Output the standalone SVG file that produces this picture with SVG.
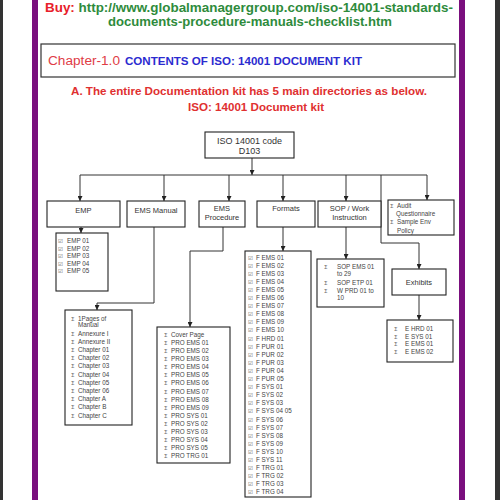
<svg xmlns="http://www.w3.org/2000/svg" width="500" height="500" viewBox="0 0 500 500">
<style>
  .box{fill:#fff;stroke:#222;stroke-width:1.1}
  .lbl{font-family:"Liberation Sans",Arial,sans-serif;font-size:7.5px;fill:#333;text-anchor:middle}
  .li{font-family:"Liberation Sans",Arial,sans-serif;font-size:6.3px;fill:#444}
  .bu{font-family:"DejaVu Sans",sans-serif;font-size:5.5px;fill:#666}
  .conn{fill:none;stroke:#333;stroke-width:1}
</style>
<defs>
  <marker id="arr" viewBox="0 0 10 10" refX="10" refY="5" markerWidth="5" markerHeight="5" markerUnits="userSpaceOnUse" orient="auto">
    <path d="M0,0 L10,5 L0,10 z" fill="#222"/>
  </marker>
</defs>
<rect x="0" y="0" width="500" height="500" fill="#fff"/>
<rect x="0" y="0" width="3" height="500" fill="#333"/>
<rect x="495" y="0" width="5" height="500" fill="#333"/>
<rect x="32" y="0" width="6" height="500" fill="#7a0f7e"/>
<rect x="459" y="0" width="6" height="500" fill="#7a0f7e"/>

<g id="header" font-family="Liberation Sans,Arial,sans-serif" font-weight="bold">
  <text x="45" y="12" font-size="13" textLength="408" lengthAdjust="spacingAndGlyphs"><tspan fill="#e8202a">Buy:</tspan><tspan fill="#2e8b3c"> http://www.globalmanagergroup.com/iso-14001-standards-</tspan></text>
  <text x="108" y="26" font-size="13" fill="#2e8b3c" textLength="284" lengthAdjust="spacingAndGlyphs">documents-procedure-manuals-checklist.htm</text>
</g>
<g id="chapter">
  <rect x="41" y="44" width="414" height="33" fill="#fff" stroke="#333" stroke-width="1.2"/>
  <text x="48" y="65" font-family="Liberation Sans,Arial,sans-serif" font-size="12" fill="#e03c46" textLength="72" lengthAdjust="spacingAndGlyphs">Chapter-1.0</text>
  <text x="125" y="65" font-family="Liberation Sans,Arial,sans-serif" font-size="10.5" font-weight="bold" fill="#2b2bd0" textLength="237" lengthAdjust="spacingAndGlyphs">CONTENTS OF ISO: 14001 DOCUMENT KIT</text>
</g>
<g id="intro" font-family="Liberation Sans,Arial,sans-serif" font-weight="bold" fill="#e03030" font-size="11.5">
  <text x="71" y="95" textLength="356" lengthAdjust="spacingAndGlyphs">A. The entire Documentation kit has 5 main directories as below.</text>
  <text x="188" y="111" textLength="136" lengthAdjust="spacingAndGlyphs">ISO: 14001 Document kit</text>
</g>

<g id="connectors">
  <path class="conn" d="M252,158 V175" marker-end="url(#arr)"/>
  <path class="conn" d="M80,175 H427"/>
  <path class="conn" d="M80,175 V201" marker-end="url(#arr)"/>
  <path class="conn" d="M164,175 V201" marker-end="url(#arr)"/>
  <path class="conn" d="M229,175 V201" marker-end="url(#arr)"/>
  <path class="conn" d="M283,175 V201" marker-end="url(#arr)"/>
  <path class="conn" d="M346,175 V201" marker-end="url(#arr)"/>
  <path class="conn" d="M427,175 V200" marker-end="url(#arr)"/>
  <path class="conn" d="M81,227 V233" marker-end="url(#arr)"/>
  <path class="conn" d="M154,227 V303 H97 V310" marker-end="url(#arr)"/>
  <path class="conn" d="M223,227 V251 H190 V327" marker-end="url(#arr)"/>
  <path class="conn" d="M283,227 V251" marker-end="url(#arr)"/>
  <path class="conn" d="M346,227 V259" marker-end="url(#arr)"/>
  <path class="conn" d="M381,175 V243 H419 V269" marker-end="url(#arr)"/>
  <path class="conn" d="M419,295 V320" marker-end="url(#arr)"/>
</g>

<g id="root">
  <rect class="box" x="205" y="132" width="89" height="26"/>
  <text x="249.5" y="144" font-family="Liberation Sans,Arial,sans-serif" font-size="9" fill="#333" text-anchor="middle">ISO 14001 code</text>
  <text x="249.5" y="154" font-family="Liberation Sans,Arial,sans-serif" font-size="9" fill="#333" text-anchor="middle">D103</text>
</g>

<g id="emp">
  <rect class="box" x="47" y="201" width="73" height="26"/>
  <text class="lbl" x="83.5" y="213">EMP</text>
</g>
<g id="ems-manual">
  <rect class="box" x="127" y="201" width="58" height="26"/>
  <text class="lbl" x="156" y="213">EMS Manual</text>
</g>
<g id="ems-procedure">
  <rect class="box" x="199" y="201" width="46" height="26"/>
  <text class="lbl" x="222" y="211">EMS</text>
  <text class="lbl" x="222" y="220">Procedure</text>
</g>
<g id="formats">
  <rect class="box" x="257" y="201" width="58" height="26"/>
  <text class="lbl" x="286" y="211">Formats</text>
</g>
<g id="sop">
  <rect class="box" x="318" y="201" width="63" height="26"/>
  <text class="lbl" x="349.5" y="211">SOP / Work</text>
  <text class="lbl" x="349.5" y="220">Instruction</text>
</g>
<g id="audit">
  <rect class="box" x="388" y="200" width="66" height="35"/>
  <text class="bu" x="390" y="208">Σ</text>
  <text class="li" x="397" y="208" font-size="7">Audit</text>
  <text class="li" x="396" y="216" font-size="7">Questionnaire</text>
  <text class="bu" x="390" y="224">Σ</text>
  <text class="li" x="397" y="224" font-size="7">Sample Env</text>
  <text class="li" x="397" y="233" font-size="7">Policy</text>
</g>
<g id="exhibits">
  <rect class="box" x="392" y="269" width="54" height="26"/>
  <text class="lbl" x="419" y="285">Exhibits</text>
</g>

<g id="emp-list">
  <rect class="box" x="56" y="233" width="52" height="58"/>
  <g class="bu"><text x="58" y="243">☑</text><text x="58" y="250.5">☑</text><text x="58" y="258">☑</text><text x="58" y="265.5">☑</text><text x="58" y="273">☑</text></g>
  <g class="li"><text x="67" y="243">EMP 01</text><text x="67" y="250.5">EMP 02</text><text x="67" y="258">EMP 03</text><text x="67" y="265.5">EMP 04</text><text x="67" y="273">EMP 05</text></g>
</g>

<g id="manual-list">
  <rect class="box" x="65" y="310" width="67" height="115"/>
  <g class="bu">
    <text x="71" y="320.5">Σ</text><text x="71" y="335.5">Σ</text><text x="71" y="343.7">Σ</text><text x="71" y="351.9">Σ</text><text x="71" y="360.1">Σ</text><text x="71" y="368.3">Σ</text><text x="71" y="376.5">Σ</text><text x="71" y="384.7">Σ</text><text x="71" y="392.9">Σ</text><text x="71" y="401.1">Σ</text><text x="71" y="409.3">Σ</text><text x="71" y="417.5">Σ</text>
  </g>
  <g class="li">
    <text x="78" y="320.5">1Pages of</text><text x="78" y="327">Manual</text><text x="78" y="335.5">Annexure I</text><text x="78" y="343.7">Annexure II</text><text x="78" y="351.9">Chapter 01</text><text x="78" y="360.1">Chapter 02</text><text x="78" y="368.3">Chapter 03</text><text x="78" y="376.5">Chapter 04</text><text x="78" y="384.7">Chapter 05</text><text x="78" y="392.9">Chapter 06</text><text x="78" y="401.1">Chapter A</text><text x="78" y="409.3">Chapter B</text><text x="78" y="417.5">Chapter C</text>
  </g>
</g>

<g id="procedure-list">
  <rect class="box" x="157" y="327" width="73" height="136"/>
  <g class="bu">
    <text x="164" y="337">Σ</text><text x="164" y="345.1">Σ</text><text x="164" y="353.1">Σ</text><text x="164" y="361.2">Σ</text><text x="164" y="369.3">Σ</text><text x="164" y="377.4">Σ</text><text x="164" y="385.4">Σ</text><text x="164" y="393.5">Σ</text><text x="164" y="401.6">Σ</text><text x="164" y="409.6">Σ</text><text x="164" y="417.7">Σ</text><text x="164" y="425.8">Σ</text><text x="164" y="433.8">Σ</text><text x="164" y="441.9">Σ</text><text x="164" y="450">Σ</text><text x="164" y="458">Σ</text>
  </g>
  <g class="li">
    <text x="171" y="337">Cover Page</text><text x="171" y="345.1">PRO EMS 01</text><text x="171" y="353.1">PRO EMS 02</text><text x="171" y="361.2">PRO EMS 03</text><text x="171" y="369.3">PRO EMS 04</text><text x="171" y="377.4">PRO EMS 05</text><text x="171" y="385.4">PRO EMS 06</text><text x="171" y="393.5">PRO EMS 07</text><text x="171" y="401.6">PRO EMS 08</text><text x="171" y="409.6">PRO EMS 09</text><text x="171" y="417.7">PRO SYS 01</text><text x="171" y="425.8">PRO SYS 02</text><text x="171" y="433.8">PRO SYS 03</text><text x="171" y="441.9">PRO SYS 04</text><text x="171" y="450">PRO SYS 05</text><text x="171" y="458">PRO TRG 01</text>
  </g>
</g>

<g id="formats-list">
  <rect class="box" x="245" y="251" width="66" height="246"/>
  <g class="bu">
    <text x="248" y="259.5">☑</text><text x="248" y="267.6">☑</text><text x="248" y="275.7">☑</text><text x="248" y="283.8">☑</text><text x="248" y="291.9">☑</text><text x="248" y="300">☑</text><text x="248" y="308.1">☑</text><text x="248" y="316.2">☑</text><text x="248" y="324.3">☑</text><text x="248" y="332.4">☑</text><text x="248" y="340.5">☑</text><text x="248" y="348.6">☑</text><text x="248" y="356.7">☑</text><text x="248" y="364.8">☑</text><text x="248" y="372.9">☑</text><text x="248" y="381">☑</text><text x="248" y="389.1">☑</text><text x="248" y="397.2">☑</text><text x="248" y="405.3">☑</text><text x="248" y="413.4">☑</text><text x="248" y="421.5">☑</text><text x="248" y="429.6">☑</text><text x="248" y="437.7">☑</text><text x="248" y="445.8">☑</text><text x="248" y="453.9">☑</text><text x="248" y="462">☑</text><text x="248" y="470.1">☑</text><text x="248" y="478.2">☑</text><text x="248" y="486.3">☑</text><text x="248" y="494.4">☑</text>
  </g>
  <g class="li" font-size="6">
    <text x="256" y="259.5">F  EMS 01</text><text x="256" y="267.6">F  EMS 02</text><text x="256" y="275.7">F  EMS 03</text><text x="256" y="283.8">F  EMS 04</text><text x="256" y="291.9">F  EMS 05</text><text x="256" y="300">F  EMS 06</text><text x="256" y="308.1">F  EMS 07</text><text x="256" y="316.2">F  EMS 08</text><text x="256" y="324.3">F  EMS 09</text><text x="256" y="332.4">F  EMS 10</text><text x="256" y="340.5">F HRD 01</text><text x="256" y="348.6">F PUR 01</text><text x="256" y="356.7">F PUR 02</text><text x="256" y="364.8">F PUR 03</text><text x="256" y="372.9">F PUR 04</text><text x="256" y="381">F PUR 05</text><text x="256" y="389.1">F SYS 01</text><text x="256" y="397.2">F SYS 02</text><text x="256" y="405.3">F SYS 03</text><text x="256" y="413.4">F SYS 04 05</text><text x="256" y="421.5">F SYS 06</text><text x="256" y="429.6">F SYS 07</text><text x="256" y="437.7">F SYS 08</text><text x="256" y="445.8">F SYS 09</text><text x="256" y="453.9">F SYS 10</text><text x="256" y="462">F SYS 11</text><text x="256" y="470.1">F TRG 01</text><text x="256" y="478.2">F TRG 02</text><text x="256" y="486.3">F TRG 03</text><text x="256" y="494.4">F TRG 04</text>
  </g>
</g>

<g id="sop-list">
  <rect class="box" x="317" y="259" width="67" height="48"/>
  <g class="bu"><text x="324" y="269">Σ</text><text x="324" y="285">Σ</text><text x="324" y="293">Σ</text></g>
  <g class="li"><text x="337" y="269">SOP EMS 01</text><text x="337" y="276">to 29</text><text x="337" y="285">SOP ETP 01</text><text x="337" y="293">W PRD 01 to</text><text x="337" y="300">10</text></g>
</g>

<g id="exhibits-list">
  <rect class="box" x="387" y="320" width="66" height="42"/>
  <g class="bu"><text x="394" y="331">Σ</text><text x="394" y="338.5">Σ</text><text x="394" y="346">Σ</text><text x="394" y="353.5">Σ</text></g>
  <g class="li"><text x="405" y="331">E HRD 01</text><text x="405" y="338.5">E SYS 01</text><text x="405" y="346">E EMS 01</text><text x="405" y="353.5">E EMS 02</text></g>
</g>
</svg>
